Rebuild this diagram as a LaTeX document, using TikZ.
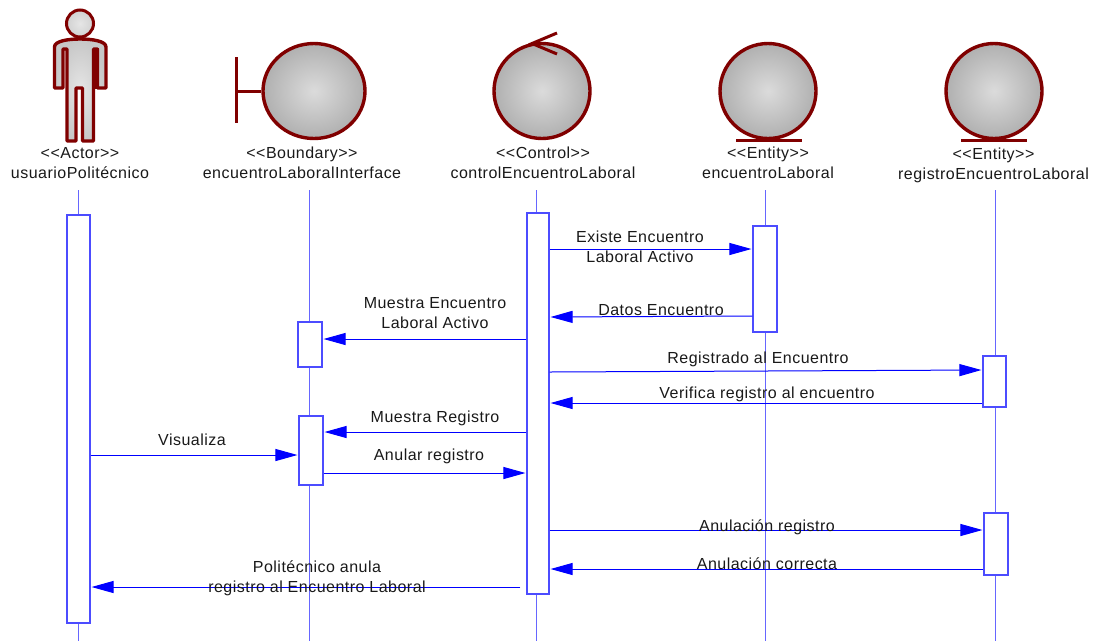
\documentclass[tikz,border=0pt]{standalone}
\usepackage{fontspec}
\setmainfont[Ligatures=NoCommon,LetterSpace=3]{Liberation Sans}
\usetikzlibrary{arrows.meta,shapes.geometric}
\definecolor{maroon}{RGB}{128,0,0}
\definecolor{ink}{RGB}{25,25,25}
\tikzset{
    ball/.style={ellipse,draw=maroon,line width=3.4pt,minimum width=96pt,minimum height=95pt,inner color=black!14,outer color=black!31},
    stereo/.style={align=center,text=ink,font=\fontsize{16}{20}\selectfont,inner sep=0pt},
    msgtext/.style={align=center,text=ink,font=\fontsize{16}{20}\selectfont,inner sep=0pt},
    lifeline/.style={blue!60,line width=1pt},
    bar/.style={draw=blue!70,fill=white,line width=1.1pt,inner sep=0pt},
    msg/.style={blue,line width=1pt,-{Triangle[length=22pt,width=12pt]},shorten >=1pt}
}
\begin{document}
\begin{tikzpicture}[x=1pt,y=-1pt]
    \useasboundingbox (0,0) rectangle (1097,641);
    % lifelines
    \foreach \who/\x in {actor/78.5,iface/309,ctrl/536,ent/765,reg/995}{
        \coordinate (\who top) at (\x,190);
        \coordinate (\who end) at (\x,641);
        \draw[lifeline] (\who top) -- (\who end);
    }
    % actor figure
    \shade[inner color=black!10,outer color=black!22,draw=maroon,line width=3.4pt,line join=round]
        (54.5,88) -- (54.5,47) .. controls (54.5,41) and (68,39) .. (80,39)
        .. controls (92,39) and (106,41) .. (106,47) -- (106,88) -- (97.5,88) -- (97.5,49) -- (93.5,49)
        -- (93.5,141) -- (82.5,141) -- (82.5,88) -- (76,88) -- (76,141) -- (67,141) -- (67,49) -- (63,49) -- (63,88) -- cycle;
    \fill[maroon] (92.5,48) rectangle (99,89);
    \node[circle,draw=maroon,line width=3pt,minimum size=27pt,inner sep=0pt,inner color=black!10,outer color=black!18] (actorhead) at (80,23.5) {};
    % the four balls
    \node[ball,minimum width=102pt] (ifaceball) at (314,91) {};
    \node[ball] (ctrlball) at (542,91) {};
    \node[ball] (entball) at (768,91) {};
    \node[ball] (regball) at (994,91) {};
    % boundary handle
    \coordinate (teetop) at (236,57);
    \coordinate (teebot) at (236,123);
    \draw[maroon,line width=3pt] (teetop) -- (teebot);
    \draw[maroon,line width=3pt] (teetop |- ifaceball.west) -- (ifaceball.west);
    % control arrow
    \coordinate (ctrltipa) at (557,33);
    \coordinate (ctrltipb) at (557,54);
    \draw[maroon,line width=3pt] (ctrltipa) -- (532,43.5) -- (ctrltipb);
    % entity bases
    \draw[maroon,line width=3pt] ([xshift=-32pt]entball.south) -- ([xshift=34pt]entball.south);
    \draw[maroon,line width=3pt] ([xshift=-33pt]regball.south) -- ([xshift=33pt]regball.south);
    % names
    \node[stereo] (actorname) at (80,163) {{<}{<}Actor{>}{>}\\usuarioPolitécnico};
    \node[stereo] (ifacename) at (302,163) {{<}{<}Boundary{>}{>}\\encuentroLaboralInterface};
    \node[stereo] (ctrlname) at (543,163) {{<}{<}Control{>}{>}\\controlEncuentroLaboral};
    \node[stereo] (entname) at (768,163) {{<}{<}Entity{>}{>}\\encuentroLaboral};
    \node[stereo] (regname) at (993.5,165) {{<}{<}Entity{>}{>}\\registroEncuentroLaboral};
    % activation bars
    \node[bar,minimum width=23pt,minimum height=408pt] (actorbar) at (78.5,419) {};
    \node[bar,minimum width=24pt,minimum height=45pt] (ifacebara) at (310,344.5) {};
    \node[bar,minimum width=24pt,minimum height=69pt] (ifacebarb) at (311,450.5) {};
    \node[bar,minimum width=22pt,minimum height=381pt] (ctrlbar) at (538,403.5) {};
    \node[bar,minimum width=24pt,minimum height=106pt] (entbar) at (765,279) {};
    \node[bar,minimum width=23pt,minimum height=51pt] (regbara) at (994.5,381.5) {};
    \node[bar,minimum width=24pt,minimum height=62pt] (regbarb) at (996,544) {};
    % messages
    \draw[msg] (ctrlbar.east |- 0,249) -- (entbar.west |- 0,249);
    \draw[msg] (entbar.west |- 0,316) -- (ctrlbar.east |- 0,317);
    \draw[msg] (ctrlbar.west |- 0,339) -- (ifacebara.east |- 0,339);
    \draw[msg] (ctrlbar.east |- 0,372) -- (regbara.west |- 0,370);
    \draw[msg] (regbara.west |- 0,403) -- (ctrlbar.east |- 0,403);
    \draw[msg] (ctrlbar.west |- 0,432) -- (ifacebarb.east |- 0,432);
    \draw[msg] (ifacebarb.east |- 0,473) -- (ctrlbar.west |- 0,473);
    \draw[msg] (actorbar.east |- 0,455) -- (ifacebarb.west |- 0,455);
    \draw[msg] (ctrlbar.east |- 0,530) -- (regbarb.west |- 0,530);
    \draw[msg] (regbarb.west |- 0,569) -- (ctrlbar.east |- 0,569);
    \draw[msg,shorten <=6pt] (ctrlbar.west |- 0,587) -- (actorbar.east |- 0,587);
    % message texts
    \node[msgtext] (existetext) at (640,247) {Existe Encuentro\\Laboral Activo};
    \node[msgtext] (datostext) at (661,310) {Datos Encuentro};
    \node[msgtext] (muestratext) at (435,313) {Muestra Encuentro\\Laboral Activo};
    \node[msgtext] (registradotext) at (758,359) {Registrado al Encuentro};
    \node[msgtext] (verificatext) at (767,394) {Verifica registro al encuentro};
    \node[msgtext] (registrotext) at (435,418) {Muestra Registro};
    \node[msgtext] (anulartext) at (429,456) {Anular registro};
    \node[msgtext] (visualizatext) at (192,440) {Visualiza};
    \node[msgtext] (anulaciontext) at (767,527) {Anulación registro};
    \node[msgtext] (correctatext) at (767,564) {Anulación correcta};
    \node[msgtext] (politecnicotext) at (317,578) {Politécnico anula\\registro al Encuentro Laboral};
\end{tikzpicture}
\end{document}
